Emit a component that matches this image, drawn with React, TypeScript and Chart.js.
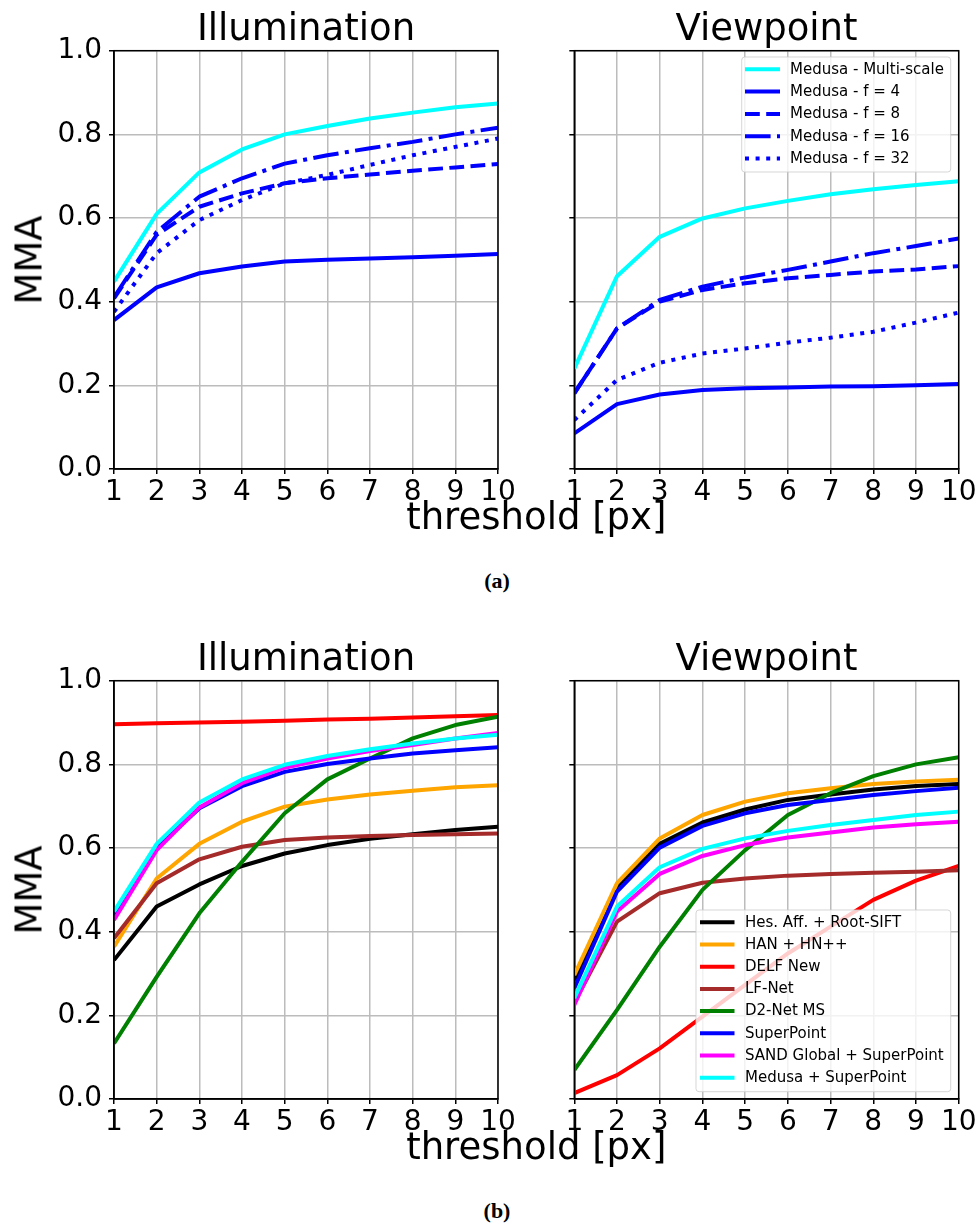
import React, { useEffect, useRef } from 'react';
import { Chart, registerables } from 'chart.js';

Chart.register(...registerables);

// ---------- data ----------
const thresholds = [1, 2, 3, 4, 5, 6, 7, 8, 9, 10];
const xTickLabels = ['1', '2', '3', '4', '5', '6', '7', '8', '9', '10'];
const yTickValues = [0, 0.2, 0.4, 0.6, 0.8, 1.0];
const yTickLabels = ['0.0', '0.2', '0.4', '0.6', '0.8', '1.0'];

// (a) Medusa variants
const illumMultiScale = [0.448, 0.61, 0.709, 0.764, 0.8, 0.82, 0.838, 0.852, 0.865, 0.874];
const illumF4 = [0.356, 0.434, 0.468, 0.484, 0.496, 0.5, 0.503, 0.506, 0.51, 0.514];
const illumF8 = [0.408, 0.56, 0.627, 0.659, 0.683, 0.695, 0.704, 0.713, 0.721, 0.729];
const illumF16 = [0.41, 0.567, 0.651, 0.695, 0.73, 0.75, 0.767, 0.782, 0.8, 0.816];
const illumF32 = [0.376, 0.516, 0.595, 0.643, 0.683, 0.703, 0.727, 0.75, 0.77, 0.79];

const viewMultiScale = [0.24, 0.461, 0.555, 0.599, 0.623, 0.641, 0.657, 0.669, 0.679, 0.688];
const viewF4 = [0.085, 0.155, 0.178, 0.189, 0.193, 0.195, 0.197, 0.198, 0.2, 0.203];
const viewF8 = [0.181, 0.336, 0.4, 0.428, 0.444, 0.456, 0.464, 0.472, 0.477, 0.485];
const viewF16 = [0.181, 0.336, 0.404, 0.436, 0.458, 0.476, 0.496, 0.516, 0.533, 0.551];
const viewF32 = [0.117, 0.213, 0.254, 0.276, 0.288, 0.302, 0.314, 0.328, 0.35, 0.374];

// (b) method comparison
const illumHes = [0.332, 0.46, 0.513, 0.557, 0.587, 0.607, 0.622, 0.633, 0.643, 0.651];
const illumHan = [0.364, 0.527, 0.61, 0.663, 0.699, 0.716, 0.728, 0.737, 0.745, 0.75];
const illumDelf = [0.896, 0.898, 0.9, 0.902, 0.904, 0.907, 0.909, 0.912, 0.915, 0.918];
const illumLfNet = [0.384, 0.516, 0.573, 0.603, 0.619, 0.625, 0.629, 0.631, 0.633, 0.635];
const illumD2Net = [0.133, 0.292, 0.444, 0.567, 0.683, 0.764, 0.814, 0.862, 0.894, 0.914];
const illumSuperPoint = [0.44, 0.6, 0.695, 0.748, 0.782, 0.801, 0.814, 0.826, 0.834, 0.841];
const illumSand = [0.428, 0.595, 0.697, 0.755, 0.792, 0.814, 0.832, 0.846, 0.862, 0.875];
const illumMedusa = [0.448, 0.61, 0.709, 0.764, 0.799, 0.82, 0.836, 0.85, 0.862, 0.871];

const viewHes = [0.284, 0.508, 0.61, 0.661, 0.692, 0.715, 0.728, 0.74, 0.748, 0.753];
const viewHan = [0.296, 0.516, 0.623, 0.679, 0.711, 0.731, 0.743, 0.753, 0.759, 0.763];
const viewDelf = [0.014, 0.057, 0.121, 0.197, 0.273, 0.348, 0.412, 0.476, 0.522, 0.557];
const viewLfNet = [0.23, 0.424, 0.492, 0.517, 0.527, 0.534, 0.538, 0.541, 0.543, 0.547];
const viewD2Net = [0.069, 0.213, 0.364, 0.5, 0.595, 0.679, 0.731, 0.772, 0.8, 0.817];
const viewSuperPoint = [0.265, 0.496, 0.601, 0.653, 0.683, 0.703, 0.715, 0.727, 0.736, 0.744];
const viewSand = [0.225, 0.448, 0.538, 0.581, 0.607, 0.625, 0.637, 0.649, 0.657, 0.663];
const viewMedusa = [0.241, 0.46, 0.554, 0.598, 0.623, 0.641, 0.655, 0.667, 0.679, 0.687];

// ---------- styles ----------
const SOLID: number[] = [];
const DASHED = [14.8, 6.4];
const DASHDOT = [25.6, 6.4, 4, 6.4];
const DOTTED = [4, 6.6];
const FONT = '"DejaVu Sans", sans-serif';

type Series = { label: string; color: string; dash: number[]; values: number[] };

const seriesAIllum: Series[] = [
  { label: 'Medusa - Multi-scale', color: '#00ffff', dash: SOLID, values: illumMultiScale },
  { label: 'Medusa - f = 4', color: '#0000ff', dash: SOLID, values: illumF4 },
  { label: 'Medusa - f = 8', color: '#0000ff', dash: DASHED, values: illumF8 },
  { label: 'Medusa - f = 16', color: '#0000ff', dash: DASHDOT, values: illumF16 },
  { label: 'Medusa - f = 32', color: '#0000ff', dash: DOTTED, values: illumF32 },
];
const seriesAView: Series[] = [
  { label: 'Medusa - Multi-scale', color: '#00ffff', dash: SOLID, values: viewMultiScale },
  { label: 'Medusa - f = 4', color: '#0000ff', dash: SOLID, values: viewF4 },
  { label: 'Medusa - f = 8', color: '#0000ff', dash: DASHED, values: viewF8 },
  { label: 'Medusa - f = 16', color: '#0000ff', dash: DASHDOT, values: viewF16 },
  { label: 'Medusa - f = 32', color: '#0000ff', dash: DOTTED, values: viewF32 },
];
const methodLabels = [
  'Hes. Aff. + Root-SIFT',
  'HAN + HN++',
  'DELF New',
  'LF-Net',
  'D2-Net MS',
  'SuperPoint',
  'SAND Global + SuperPoint',
  'Medusa + SuperPoint',
];
const methodColors = ['#000000', '#ffa500', '#ff0000', '#a52a2a', '#008000', '#0000ff', '#ff00ff', '#00ffff'];
const illumMethods = [illumHes, illumHan, illumDelf, illumLfNet, illumD2Net, illumSuperPoint, illumSand, illumMedusa];
const viewMethods = [viewHes, viewHan, viewDelf, viewLfNet, viewD2Net, viewSuperPoint, viewSand, viewMedusa];
const seriesBIllum: Series[] = methodLabels.map((l, i) => ({ label: l, color: methodColors[i], dash: SOLID, values: illumMethods[i] }));
const seriesBView: Series[] = methodLabels.map((l, i) => ({ label: l, color: methodColors[i], dash: SOLID, values: viewMethods[i] }));

// ---------- chart panel ----------
type Area = { left: number; top: number; right: number; bottom: number };
type LegendSpec = { x: number; y: number; w: number; h: number; row0: number; gap: number; h0: number; h1: number; tx: number };

function Panel(props: { canvasLeft: number; canvasTop: number; area: Area; showY: boolean; series: Series[]; legend?: LegendSpec }) {
  const { canvasLeft, canvasTop, area, showY, series, legend } = props;
  const ref = useRef<HTMLCanvasElement | null>(null);
  const yAxisW = area.left - canvasLeft;
  const cw = Math.ceil(area.right - canvasLeft + 30);
  const ch = 530;
  const xAxisH = 45;
  const padTop = area.top - canvasTop;
  const padRight = cw - (area.right - canvasLeft);
  const padBottom = ch - (area.bottom - canvasTop) - xAxisH;

  useEffect(() => {
    const framePlugin = {
      id: 'frame',
      afterDatasetsDraw(chart: any) {
        const { ctx, chartArea: a } = chart;
        ctx.save();
        ctx.strokeStyle = '#000';
        ctx.lineWidth = 1.5;
        ctx.setLineDash([]);
        ctx.strokeRect(a.left, a.top, a.right - a.left, a.bottom - a.top);
        ctx.restore();
      },
    };
    const legendPlugin = {
      id: 'mplLegend',
      afterDraw(chart: any) {
        if (!legend) return;
        const ctx = chart.ctx as CanvasRenderingContext2D;
        const x = legend.x - canvasLeft;
        const y = legend.y - canvasTop;
        ctx.save();
        const r = 3;
        ctx.beginPath();
        ctx.moveTo(x + r, y);
        ctx.lineTo(x + legend.w - r, y);
        ctx.arcTo(x + legend.w, y, x + legend.w, y + r, r);
        ctx.lineTo(x + legend.w, y + legend.h - r);
        ctx.arcTo(x + legend.w, y + legend.h, x + legend.w - r, y + legend.h, r);
        ctx.lineTo(x + r, y + legend.h);
        ctx.arcTo(x, y + legend.h, x, y + legend.h - r, r);
        ctx.lineTo(x, y + r);
        ctx.arcTo(x, y, x + r, y, r);
        ctx.closePath();
        ctx.fillStyle = 'rgba(255,255,255,0.8)';
        ctx.fill();
        ctx.strokeStyle = 'rgba(204,204,204,0.8)';
        ctx.lineWidth = 1;
        ctx.stroke();
        ctx.font = `15px ${FONT}`;
        ctx.textBaseline = 'middle';
        ctx.textAlign = 'left';
        series.forEach((s, i) => {
          const yy = legend.row0 - canvasTop + i * legend.gap;
          ctx.beginPath();
          ctx.setLineDash(s.dash);
          ctx.lineCap = 'butt';
          ctx.lineWidth = 4;
          ctx.strokeStyle = s.color;
          ctx.moveTo(legend.h0 - canvasLeft, yy);
          ctx.lineTo(legend.h1 - canvasLeft, yy);
          ctx.stroke();
          ctx.setLineDash([]);
          ctx.fillStyle = '#000';
          ctx.fillText(s.label, legend.tx - canvasLeft, yy + 0.5);
        });
        ctx.restore();
      },
    };

    const gridOpts = { color: '#bcbcbc', lineWidth: 1.5, tickColor: '#000', tickLength: 5, tickWidth: 1.5, drawTicks: true };
    const chart = new Chart(ref.current as HTMLCanvasElement, {
      type: 'line',
      data: {
        datasets: series.map((s, i) => ({
          label: s.label,
          data: thresholds.map((t, j) => ({ x: t, y: s.values[j] })),
          borderColor: s.color,
          backgroundColor: s.color,
          borderWidth: 4,
          borderDash: s.dash,
          borderCapStyle: 'butt',
          borderJoinStyle: 'round',
          pointRadius: 0,
          pointHoverRadius: 0,
          fill: false,
          tension: 0,
          clip: 0,
          order: series.length - i,
        })) as any,
      },
      options: {
        responsive: false,
        animation: false,
        events: [],
        layout: { autoPadding: false, padding: { left: 0, top: padTop, right: padRight, bottom: padBottom } } as any,
        plugins: { legend: { display: false }, tooltip: { enabled: false }, title: { display: false } },
        scales: {
          x: {
            type: 'linear',
            min: 1,
            max: 10,
            afterBuildTicks: (s: any) => { s.ticks = thresholds.map((v) => ({ value: v })); },
            afterFit: (s: any) => { s.height = xAxisH; },
            ticks: {
              font: { family: FONT, size: 28 },
              color: '#000',
              padding: 2,
              maxRotation: 0,
              autoSkip: false,
              callback: (v: any) => xTickLabels[thresholds.indexOf(Number(v))],
            },
            grid: gridOpts,
            border: { display: true, color: '#000', width: 1.5 },
          },
          y: {
            type: 'linear',
            min: 0,
            max: 1,
            afterBuildTicks: (s: any) => { s.ticks = yTickValues.map((v) => ({ value: v })); },
            afterFit: (s: any) => { s.width = yAxisW; },
            ticks: {
              display: showY,
              font: { family: FONT, size: 28 },
              color: '#000',
              padding: 7,
              callback: (v: any) => yTickLabels[yTickValues.findIndex((t) => Math.abs(t - Number(v)) < 1e-6)],
            },
            grid: gridOpts,
            border: { display: true, color: '#000', width: 1.5 },
          },
        },
      } as any,
      plugins: [framePlugin, legendPlugin],
    });
    return () => chart.destroy();
  }, []);

  return (
    <canvas
      ref={ref}
      width={cw}
      height={ch}
      style={{ position: 'absolute', left: canvasLeft, top: canvasTop, width: cw, height: ch }}
    />
  );
}

function Text(props: { text: string; cx: number; baseline: number; size: number; serif?: boolean; bold?: boolean }) {
  const { text, cx, baseline, size, serif, bold } = props;
  const off = serif ? 0.8375 * size : 0.846 * size;
  return (
    <div
      style={{
        position: 'absolute',
        left: cx,
        top: baseline - off,
        transform: 'translateX(-50%)',
        fontFamily: serif ? '"Liberation Serif", "Times New Roman", serif' : FONT,
        fontSize: size,
        lineHeight: `${size}px`,
        fontWeight: bold ? 'bold' : 'normal',
        whiteSpace: 'nowrap',
        color: '#000',
      }}
    >
      {text}
    </div>
  );
}

function VText(props: { text: string; cx: number; cy: number; size: number }) {
  const { text, cx, cy, size } = props;
  return (
    <div
      style={{
        position: 'absolute',
        left: cx,
        top: cy,
        transform: 'translate(-50%, -50%) rotate(-90deg)',
        fontFamily: FONT,
        fontSize: size,
        lineHeight: `${size}px`,
        whiteSpace: 'nowrap',
        color: '#000',
      }}
    >
      {text}
    </div>
  );
}

export default function App() {
  const B = 630; // vertical offset of figure (b)
  const aTL: Area = { left: 114, top: 50.7, right: 498, bottom: 469 };
  const aTR: Area = { left: 574.3, top: 50.7, right: 958.7, bottom: 469 };
  const aBL: Area = { left: 114, top: 50.7 + B, right: 498, bottom: 469 + B };
  const aBR: Area = { left: 574.3, top: 50.7 + B, right: 958.7, bottom: 469 + B };
  const legendA: LegendSpec = { x: 741.7, y: 57, w: 209, h: 115, row0: 69.3, gap: 22.3, h0: 745, h1: 780, tx: 790 };
  const legendB: LegendSpec = { x: 696, y: 910, w: 254.7, h: 181.7, row0: 922.3, gap: 22.2, h0: 700, h1: 734.5, tx: 745 };

  return (
    <div style={{ position: 'absolute', left: 0, top: 0, width: 979, height: 1226, background: '#fff', overflow: 'hidden' }}>
      <Panel canvasLeft={0} canvasTop={0} area={aTL} showY={true} series={seriesAIllum} />
      <Panel canvasLeft={460} canvasTop={0} area={aTR} showY={false} series={seriesAView} legend={legendA} />
      <Panel canvasLeft={0} canvasTop={B} area={aBL} showY={true} series={seriesBIllum} />
      <Panel canvasLeft={460} canvasTop={B} area={aBR} showY={false} series={seriesBView} legend={legendB} />

      <Text text="Illumination" cx={306} baseline={40.7} size={37} />
      <Text text="Viewpoint" cx={766.5} baseline={40.7} size={37} />
      <Text text="threshold [px]" cx={536.3} baseline={529} size={37} />
      <VText text="MMA" cx={29.2} cy={260} size={37} />
      <Text text="(a)" cx={497} baseline={588} size={22} serif bold />

      <Text text="Illumination" cx={306} baseline={40.7 + B} size={37} />
      <Text text="Viewpoint" cx={766.5} baseline={40.7 + B} size={37} />
      <Text text="threshold [px]" cx={536.3} baseline={529 + B} size={37} />
      <VText text="MMA" cx={29.2} cy={890} size={37} />
      <Text text="(b)" cx={497} baseline={588 + B} size={22} serif bold />
    </div>
  );
}
